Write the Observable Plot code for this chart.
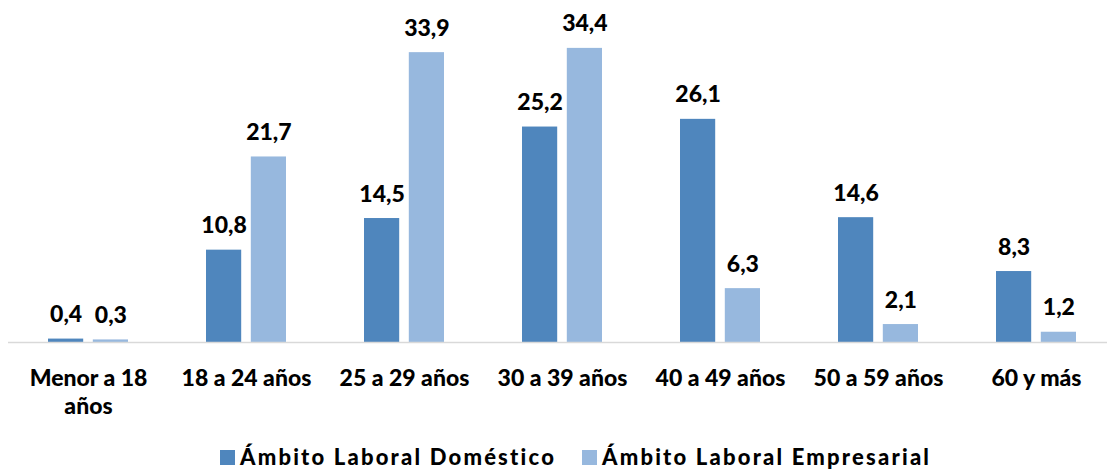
<!DOCTYPE html>
<html>
<head>
<meta charset="utf-8">
<script src="https://cdn.jsdelivr.net/npm/d3@7"></script>
<script src="https://cdn.jsdelivr.net/npm/@observablehq/plot@0.6"></script>
<style>
  body { margin: 0; background: #fff; font-family: Lato, "Open Sans", sans-serif; }
  #chart svg { display: block; font-family: Lato, "Open Sans", sans-serif; }
  .legend { display: flex; align-items: center; height: 24px; margin-top: 13px; padding-left: 220px;
            font-weight: 900; font-size: 22px; line-height: 24px; letter-spacing: 2.2px; color: #000; }
  .legend .item { display: flex; align-items: center; margin-right: 26px; }
  .legend .sw { width: 15px; height: 15px; margin-right: 5px; }
</style>
</head>
<body>
<div id="chart"></div>
<div class="legend" id="legend"></div>
<script>
// Age groups and the share (%) of each labour setting
const categories = ["Menor a 18 años", "18 a 24 años", "25 a 29 años", "30 a 39 años", "40 a 49 años", "50 a 59 años", "60 y más"];
const domestico = [0.4, 10.8, 14.5, 25.2, 26.1, 14.6, 8.3];
const empresarial = [0.3, 21.7, 33.9, 34.4, 6.3, 2.1, 1.2];
const seriesNames = ["Ámbito Laboral Doméstico", "Ámbito Laboral Empresarial"];
const seriesColors = ["#4F86BD", "#97B8DE"];

const fmt = v => v.toFixed(1).replace(".", ",");
const rowsDom = categories.map((c, i) => ({cat: c, value: domestico[i]}));
const rowsEmp = categories.map((c, i) => ({cat: c, value: empresarial[i]}));

const offset = 22.4;   // half the distance between the two bars of a group
const inset = 61.4;    // leaves a bar of about 35px inside each band

const labelOpts = {fontSize: 23, fontWeight: 900, fill: "#000", lineAnchor: "bottom", dy: -17};

const chart = Plot.plot({
  width: 1107,
  height: 432,
  marginLeft: 8,
  marginRight: 0,
  marginTop: 0,
  marginBottom: 90,
  x: {domain: categories, range: [8, 1116], padding: 0, label: null},
  y: {domain: [0, 40], range: [342, 0], axis: null},
  marks: [
    Plot.barY(rowsDom, {x: "cat", y: "value", fill: seriesColors[0], dx: -offset, insetLeft: inset, insetRight: inset}),
    Plot.barY(rowsEmp, {x: "cat", y: "value", fill: seriesColors[1], dx: offset, insetLeft: inset, insetRight: inset}),
    Plot.ruleY([0], {stroke: "#D9D9D9", strokeWidth: 1.5}),
    Plot.text(rowsDom, {x: "cat", y: "value", text: d => fmt(d.value), dx: -offset, ...labelOpts}),
    Plot.text(rowsEmp, {x: "cat", y: "value", text: d => fmt(d.value), dx: offset, ...labelOpts}),
    Plot.axisX({
      tickSize: 0,
      tickPadding: 24,
      fontSize: 23,
      fontWeight: 900,
      fill: "#000",
      lineHeight: 1.2,
      tickFormat: d => d === "Menor a 18 años" ? "Menor a 18\naños" : d
    })
  ]
});
document.getElementById("chart").append(chart);

const legend = document.getElementById("legend");
seriesNames.forEach((name, i) => {
  const item = document.createElement("div");
  item.className = "item";
  const sw = document.createElement("span");
  sw.className = "sw";
  sw.style.background = seriesColors[i];
  const label = document.createElement("span");
  label.textContent = name;
  item.append(sw, label);
  legend.append(item);
});
</script>
</body>
</html>
